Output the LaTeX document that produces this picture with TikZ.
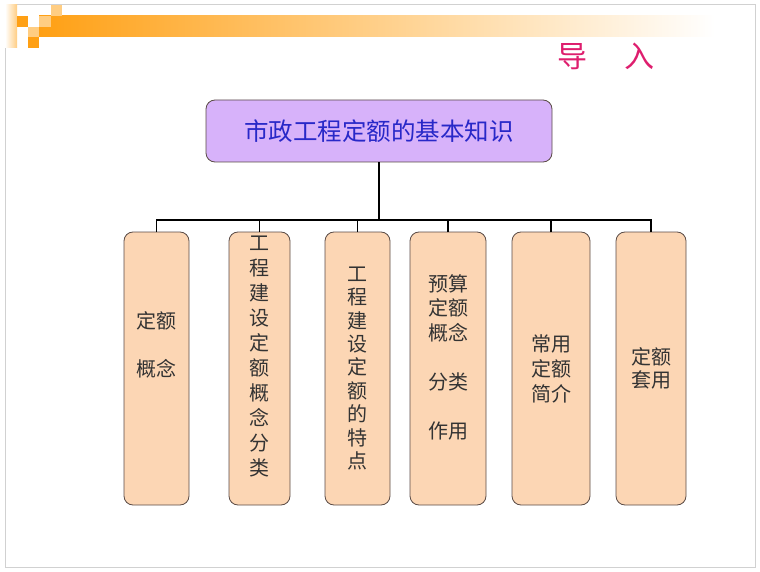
\documentclass[tikz,border=0pt]{standalone}
\usepackage{fontspec}
\newfontfamily\cjk{Noto Sans CJK SC}
\usepackage{tikz}
\usetikzlibrary{positioning}
\definecolor{lavender}{RGB}{215,178,250}
\definecolor{peach}{RGB}{252,214,180}
\definecolor{titlered}{RGB}{222,30,110}
\definecolor{bandorange}{RGB}{255,160,20}
\definecolor{lightorange}{RGB}{255,205,130}
\definecolor{boxline}{RGB}{90,75,70}
\definecolor{rootblue}{RGB}{40,40,200}

\begin{document}
\begin{tikzpicture}[x=1pt, y=-1pt]
	\tikzstyle{topbox} = [rectangle, rounded corners=9pt, draw=boxline, line width=0.8pt, fill=lavender, minimum width=346pt, minimum height=62pt, text=rootblue, font=\cjk\fontsize{24.5}{28}\selectfont]
	\tikzstyle{subbox} = [rectangle, rounded corners=9pt, draw=boxline, line width=0.8pt, fill=peach, minimum height=273pt, inner sep=0pt, outer sep=0pt, align=center, text=black!80, font=\cjk\fontsize{20}{24}\selectfont]
	\tikzstyle{conn} = [line width=1.6pt, black]
	\useasboundingbox (0,0) rectangle (760,572);
	
	% frame and header band
	\draw[black!18] (5,4) rectangle (755,567);
	\shade[left color=white, right color=lightorange] (5,5) rectangle (17,48);
	\shade[left color=bandorange, right color=white] (39,16) rectangle (715,37);
	\fill[bandorange] (17,16) rectangle (28,27);
	\fill[lightorange] (28,27) rectangle (39,37);
	\fill[bandorange] (28,37) rectangle (39,48);
	\fill[lightorange] (51,5) rectangle (62,16);
	\fill[lightorange] (39,16) rectangle (51,27);
	
	\node[text=titlered, font=\cjk\fontsize{30}{30}\selectfont] (title) at (606,56) {导\hspace{38pt}入};
	
	\node[topbox] (root) at (379,131) {市政工程定额的基本知识};
	
	\node[subbox, minimum width=65pt] (K1) at (156.5,368.5) {定额\\~\\概念\\~\\~};
	\node[subbox, minimum width=61pt, right=40pt of K1, font=\cjk\fontsize{20}{25}\selectfont] (K2) {工\\程\\建\\设\\定\\额\\概\\念\\分\\类\\~};
	\node[subbox, minimum width=65pt, right=35pt of K2, font=\cjk\fontsize{20}{23.4}\selectfont] (K3) {工\\程\\建\\设\\定\\额\\的\\特\\点};
	\node[subbox, minimum width=76pt, right=20pt of K3, font=\cjk\fontsize{20}{24.5}\selectfont] (K4) {预算\\定额\\概念\\~\\分类\\~\\作用\\~};
	\node[subbox, minimum width=78pt, right=26pt of K4, font=\cjk\fontsize{20}{25}\selectfont] (K5) {常用\\定额\\简介};
	\node[subbox, minimum width=70pt, right=26pt of K5, font=\cjk\fontsize{20}{23}\selectfont] (K6) {定额\\套用};
	
	\coordinate (bus) at (378,220);
	\draw[conn] (root.south) -- (root.south |- bus);
	\draw[conn] (K1.north) -- (K1.north |- bus) -- (K6.north |- bus) -- (K6.north);
	\foreach \k in {K2,K3,K4,K5}
		\draw[conn] (\k.north) -- (\k.north |- bus);
	
\end{tikzpicture}
\end{document}
